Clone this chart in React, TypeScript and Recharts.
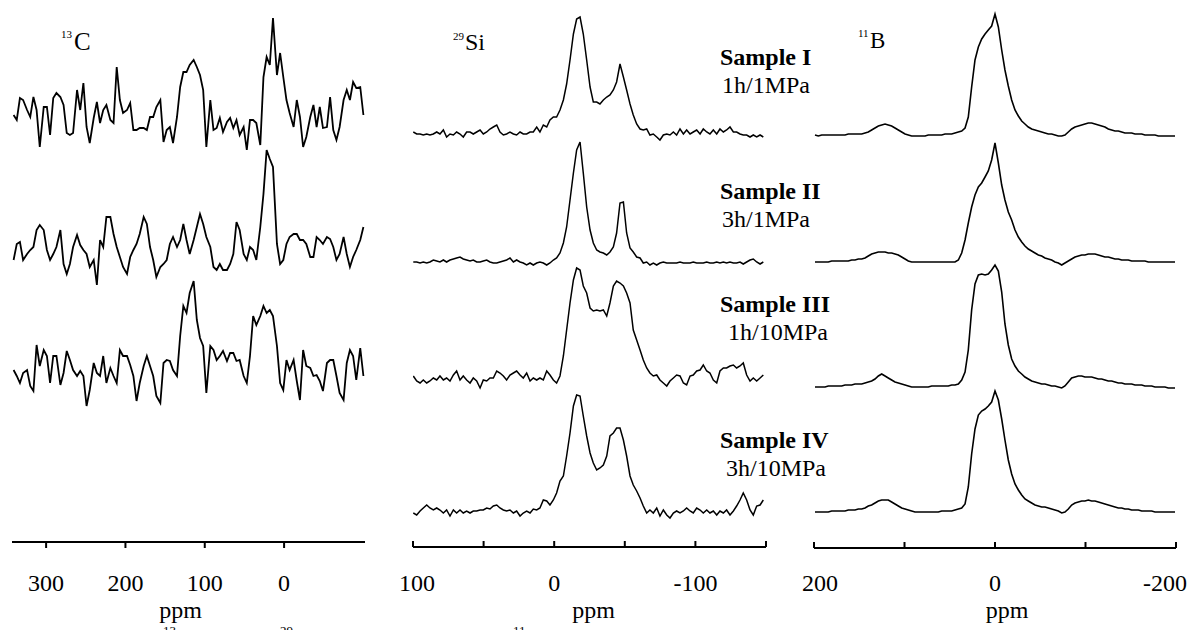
import React from 'react';
import { Line, LineChart, XAxis, YAxis } from 'recharts';

const FONT = '"Liberation Serif", "Times New Roman", serif';
const H = 630;
const PAD = 30;
const TICK_BASELINE = 591;
const PPM_BASELINE = 618;

// ---- 13C spectra (ppm grid shared by the three traces) ----
const carbonPpm = [
  341, 337, 333, 329, 324, 320, 316, 312, 308, 303,
  299, 295, 291, 287, 282, 278, 274, 270, 266, 261,
  257, 253, 249, 245, 240, 236, 232, 228, 224, 219,
  215, 211, 207, 203, 198, 194, 190, 186, 182, 177,
  173, 169, 165, 161, 156, 152, 148, 144, 140, 135,
  131, 127, 123, 119, 114, 110, 106, 102, 98, 93,
  89, 85, 81, 77, 72, 68, 64, 60, 56, 51,
  47, 43, 39, 35, 30, 26, 22, 18, 14, 9,
  5, 1, -3, -7, -12, -16, -20, -24, -28, -33,
  -37, -41, -45, -49, -54, -58, -62, -66, -70, -75,
  -79, -83, -87, -91, -96, -100,
];
const carbonI = [
  35, 30, 52, 50, 40, 33, 53, 40, 3, 43,
  43, 15, 52, 57, 53, 45, 17, 15, 17, 60,
  40, 67, 23, 7, 32, 48, 27, 40, 45, 30,
  27, 83, 50, 37, 40, 47, 20, 20, 22, 22,
  20, 33, 33, 43, 50, 8, 20, 23, 7, 33,
  63, 78, 78, 85, 90, 83, 75, 60, 3, 50,
  20, 22, 32, 18, 28, 32, 22, 30, 15, 23,
  0, 30, 30, 27, 5, 73, 93, 85, 132, 75,
  97, 73, 50, 37, 23, 50, 33, 3, 13, 33,
  45, 23, 43, 22, 23, 53, 20, 10, 23, 50,
  60, 50, 68, 62, 63, 35,
];
const carbonII = [
  27, 43, 45, 27, 33, 37, 40, 57, 62, 57,
  37, 27, 33, 40, 57, 23, 13, 23, 40, 52,
  42, 37, 33, 20, 27, 2, 47, 40, 70, 70,
  53, 40, 30, 20, 13, 30, 37, 43, 53, 70,
  63, 40, 27, 10, 20, 23, 27, 43, 50, 40,
  47, 63, 47, 33, 47, 60, 73, 63, 50, 40,
  20, 17, 23, 17, 17, 23, 33, 65, 57, 33,
  27, 40, 37, 27, 60, 93, 137, 128, 120, 43,
  23, 27, 43, 50, 53, 53, 47, 47, 43, 30,
  30, 50, 47, 43, 50, 48, 40, 27, 33, 50,
  33, 20, 30, 37, 47, 60,
];
const carbonIII = [
  43, 37, 30, 40, 43, 27, 22, 68, 47, 63,
  57, 30, 57, 57, 28, 40, 62, 53, 43, 37,
  42, 37, 7, 23, 50, 40, 37, 57, 30, 45,
  37, 30, 63, 57, 57, 48, 37, 12, 30, 47,
  57, 47, 37, 17, 10, 50, 53, 52, 43, 37,
  77, 107, 100, 120, 132, 93, 75, 67, 20, 67,
  63, 53, 57, 62, 52, 60, 60, 52, 53, 37,
  30, 57, 97, 88, 97, 107, 100, 103, 97, 67,
  30, 23, 53, 43, 53, 32, 13, 63, 47, 45,
  37, 38, 32, 22, 50, 53, 53, 37, 20, 13,
  50, 63, 57, 33, 65, 37,
];

// ---- 29Si spectra ----
const siliconPpm = [
  99.8, 97.4, 95.0, 92.7, 90.3, 88.0, 85.6, 83.2, 80.9, 78.5,
  76.2, 73.8, 71.4, 69.1, 66.7, 64.4, 62.0, 59.6, 57.3, 54.9,
  52.5, 50.2, 47.8, 45.5, 43.1, 40.7, 38.4, 36.0, 33.7, 31.3,
  28.9, 26.6, 24.2, 21.9, 19.5, 17.1, 14.8, 12.4, 10.1, 7.7,
  5.3, 3.0, 0.6, -1.7, -4.1, -6.5, -8.8, -11.2, -13.6, -15.9,
  -18.3, -20.6, -23.0, -25.4, -27.7, -30.1, -32.4, -34.8, -37.2, -39.5,
  -41.9, -44.2, -46.6, -49.0, -51.3, -53.7, -56.0, -58.4, -60.8, -63.1,
  -65.5, -67.8, -70.2, -72.6, -74.9, -77.3, -79.7, -82.0, -84.4, -86.7,
  -89.1, -91.5, -93.8, -96.2, -98.5, -100.9, -103.3, -105.6, -108.0, -110.3,
  -112.7, -115.1, -117.4, -119.8, -122.1, -124.5, -126.9, -129.2, -131.6, -133.9,
  -136.3, -138.7, -141.0, -143.4, -145.8, -148.1,
];
const siliconI = [
  5, 3, 3, 2, 3, 2, 3, 5, 3, 7,
  0, 3, 2, 5, 3, 0, 5, 5, 3, 5,
  7, 3, 5, 8, 10, 12, 5, 2, 3, 5,
  3, 2, 5, 3, 3, 5, 5, 10, 5, 12,
  10, 17, 20, 20, 27, 37, 53, 77, 103, 118,
  120, 103, 77, 50, 35, 35, 33, 37, 40, 42,
  47, 55, 73, 60, 47, 33, 22, 13, 8, 7,
  8, 2, 3, 0, -3, 2, 3, 2, 5, 2,
  8, 3, 7, 3, 5, 7, 3, 8, 5, 3,
  7, 3, 8, 5, 7, 10, 5, 5, 3, 2,
  2, 0, 2, 0, 2, 0,
];
const siliconII = [
  3, 3, 2, 3, 2, 3, 5, 4, 3, 5,
  3, 5, 6, 7, 8, 6, 5, 4, 5, 3,
  3, 4, 5, 3, 2, 2, 3, 4, 5, 7,
  3, 5, 3, 2, 0, 2, 0, 2, 3, 2,
  0, 2, 5, 7, 12, 22, 38, 65, 92, 115,
  123, 92, 58, 35, 22, 15, 13, 12, 10, 13,
  18, 32, 62, 63, 32, 17, 13, 8, 7, 2,
  3, 0, 2, 0, 2, 3, 2, 2, 2, 2,
  3, 2, 2, 2, 3, 2, 2, 2, 3, 2,
  2, 3, 2, 3, 2, 3, 2, 2, 3, 1,
  3, 5, 6, 3, 1, 3,
];
const siliconIII = [
  12, 7, 5, 8, 5, 7, 10, 8, 12, 8,
  10, 7, 13, 17, 8, 12, 8, 5, 10, 7,
  0, 8, 7, 10, 10, 17, 15, 12, 8, 13,
  15, 17, 13, 10, 15, 7, 10, 8, 10, 8,
  17, 13, 8, 5, 12, 32, 58, 85, 108, 120,
  118, 102, 95, 80, 77, 78, 77, 78, 72, 85,
  102, 107, 105, 102, 95, 85, 58, 48, 38, 28,
  20, 15, 12, 13, 8, 5, 2, 7, 10, 13,
  12, 5, 3, 12, 13, 17, 18, 23, 17, 15,
  8, 5, 17, 20, 20, 22, 23, 20, 22, 25,
  13, 7, 10, 7, 10, 13,
];
const siliconIV = [
  5, 3, 7, 10, 13, 10, 8, 10, 8, 5,
  8, 2, 8, 5, 8, 5, 7, 5, 7, 7,
  8, 8, 10, 9, 12, 13, 10, 8, 7, 8,
  5, 7, 2, 5, 7, 5, 9, 8, 10, 18,
  17, 13, 18, 25, 37, 42, 62, 85, 112, 123,
  122, 102, 82, 65, 55, 48, 50, 53, 62, 82,
  85, 90, 90, 78, 62, 42, 33, 27, 20, 12,
  5, 8, 5, 10, 2, 8, 3, 0, 5, 7,
  5, 7, 10, 7, 5, 10, 8, 5, 8, 5,
  7, 3, 7, 5, 8, 3, 7, 12, 18, 25,
  18, 8, 3, 12, 13, 18,
];

// ---- 11B spectra ----
const boronPpm = [
  198.9, 195.2, 191.5, 187.8, 184.2, 180.5, 176.8, 173.1, 169.4, 165.7,
  162.1, 158.4, 154.7, 151.0, 147.3, 143.6, 140.0, 136.3, 132.6, 128.9,
  125.2, 121.5, 117.9, 114.2, 110.5, 106.8, 103.1, 99.4, 95.8, 92.1,
  88.4, 84.7, 81.0, 77.3, 73.7, 70.0, 66.3, 62.6, 58.9, 55.2,
  51.6, 47.9, 44.2, 40.5, 36.8, 33.1, 29.5, 25.8, 22.1, 18.4,
  14.7, 11.0, 7.4, 3.7, 0, -3.7, -7.4, -11.0, -14.7, -18.4,
  -22.1, -25.8, -29.5, -33.1, -36.8, -40.5, -44.2, -47.9, -51.6, -55.2,
  -58.9, -62.6, -66.3, -70.0, -73.7, -77.3, -81.0, -84.7, -88.4, -92.1,
  -95.8, -99.4, -103.1, -106.8, -110.5, -114.2, -117.9, -121.5, -125.2, -128.9,
  -132.6, -136.3, -140.0, -143.6, -147.3, -151.0, -154.7, -158.4, -162.1, -165.7,
  -169.4, -173.1, -176.8, -180.5, -184.2, -187.8, -191.5, -195.2, -198.9,
];
const boronI = [
  2, 1, 2, 2, 2, 2, 2, 2, 2, 2,
  3, 3, 3, 3, 3, 4, 5, 7, 9, 11,
  12, 13, 12, 11, 9, 7, 5, 3, 2, 1,
  1, 1, 1, 1, 2, 2, 2, 2, 2, 3,
  3, 3, 4, 5, 6, 9, 20, 50, 77, 90,
  98, 103, 107, 111, 123, 110, 87, 67, 51, 37,
  27, 21, 16, 13, 10, 8, 7, 6, 5, 4,
  3, 3, 2, 1, 1, 2, 5, 8, 10, 11,
  12, 13, 14, 14, 13, 12, 11, 10, 8, 7,
  6, 6, 5, 4, 4, 4, 3, 3, 3, 2,
  2, 2, 2, 1, 1, 1, 1, 1, 1,
];
const boronII = [
  3, 3, 3, 3, 3, 4, 4, 4, 4, 4,
  4, 5, 5, 6, 6, 7, 9, 11, 12, 13,
  13, 13, 12, 12, 11, 10, 8, 6, 4, 3,
  3, 3, 3, 3, 3, 3, 3, 3, 3, 3,
  3, 3, 3, 5, 12, 25, 42, 58, 70, 78,
  82, 88, 94, 105, 122, 102, 80, 65, 53, 45,
  35, 28, 23, 19, 16, 14, 12, 10, 9, 7,
  6, 5, 3, 2, 0, 2, 4, 6, 8, 9,
  10, 10, 11, 11, 11, 10, 9, 8, 8, 7,
  6, 6, 5, 5, 5, 4, 4, 4, 4, 4,
  3, 3, 3, 3, 3, 3, 3, 3, 3,
];
const boronIII = [
  1, 1, 1, 1, 2, 2, 2, 2, 2, 3,
  3, 3, 4, 4, 4, 5, 6, 7, 9, 12,
  14, 12, 10, 8, 6, 5, 4, 3, 2, 1,
  1, 1, 1, 1, 1, 2, 2, 2, 2, 2,
  2, 3, 3, 4, 8, 16, 38, 78, 104, 113,
  114, 113, 114, 118, 123, 117, 96, 64, 43, 29,
  22, 17, 14, 11, 9, 7, 6, 5, 4, 4,
  3, 2, 2, 1, 0, 2, 6, 10, 11, 12,
  12, 11, 11, 11, 10, 9, 9, 8, 7, 7,
  6, 5, 5, 4, 4, 4, 3, 3, 3, 2,
  2, 2, 1, 1, 1, 1, 0, 0, 0,
];
const boronIV = [
  1, 1, 1, 1, 1, 2, 2, 2, 2, 2,
  3, 3, 3, 4, 4, 5, 7, 8, 10, 12,
  13, 13, 13, 11, 9, 7, 5, 4, 3, 2,
  1, 1, 1, 1, 1, 1, 1, 1, 2, 2,
  2, 2, 3, 4, 5, 9, 26, 59, 84, 98,
  102, 104, 107, 111, 122, 113, 94, 73, 53, 39,
  29, 23, 18, 14, 12, 10, 8, 7, 6, 6,
  5, 4, 3, 2, 0, 1, 4, 8, 10, 11,
  12, 12, 13, 12, 12, 11, 10, 9, 8, 7,
  6, 5, 5, 4, 4, 3, 3, 3, 2, 2,
  2, 2, 1, 1, 1, 1, 1, 1, 1,
];

const samples = [
  { name: 'Sample I', cond: '1h/1MPa' },
  { name: 'Sample II', cond: '3h/1MPa' },
  { name: 'Sample III', cond: '1h/10MPa' },
  { name: 'Sample IV', cond: '3h/10MPa' },
];

type PanelProps = {
  left: number;
  width: number;
  axisY: number;
  domain: [number, number];
  ticks: number[];
  labelled: number[];
  nudge?: Record<number, number>;
  tickUp: boolean;
  ppm: number[];
  series: number[][];
  offsets: number[];
  strokeWidth: number;
  ppmDx: number;
};

function Panel(p: PanelProps) {
  const rows = p.ppm.map((ppm, i) => {
    const row: Record<string, number> = { ppm };
    p.series.forEach((s, k) => {
      row['s' + k] = s[i] + p.offsets[k];
    });
    return row;
  });
  const labelGap = TICK_BASELINE - p.axisY;

  const renderTick = (props: any) => {
    const { x, y, payload } = props;
    const v = payload.value;
    return (
      <g>
        <line x1={x} x2={x} y1={y} y2={p.tickUp ? y - 6 : y + 6} stroke="#000" strokeWidth={2} />
        {p.labelled.includes(v) && (
          <text
            x={x + (p.nudge?.[v] ?? 0)}
            y={y + labelGap}
            textAnchor="middle"
            fontFamily={FONT}
            fontSize={24}
            fill="#000"
          >
            {v}
          </text>
        )}
      </g>
    );
  };

  return (
    <div style={{ position: 'absolute', left: p.left - PAD, top: 0 }}>
      <LineChart
        width={p.width + 2 * PAD}
        height={H}
        data={rows}
        margin={{ top: 0, right: PAD, bottom: 0, left: PAD }}
      >
        <XAxis
          dataKey="ppm"
          type="number"
          domain={p.domain}
          reversed
          allowDataOverflow
          ticks={p.ticks}
          interval={0}
          tickSize={0}
          tickMargin={0}
          tickLine={false}
          axisLine={{ stroke: '#000', strokeWidth: 2 }}
          tick={renderTick}
          height={H - p.axisY}
          label={{
            value: 'ppm',
            position: 'insideBottom',
            offset: H - PPM_BASELINE,
            dx: p.ppmDx,
            fontFamily: FONT,
            fontSize: 24,
            fill: '#000',
          }}
        />
        <YAxis hide type="number" domain={[0, p.axisY]} allowDataOverflow />
        {p.series.map((_, k) => (
          <Line
            key={k}
            dataKey={'s' + k}
            type="linear"
            stroke="#000"
            strokeWidth={p.strokeWidth}
            dot={false}
            isAnimationActive={false}
          />
        ))}
      </LineChart>
    </div>
  );
}

const labelPos = [
  { y: 65, condX: 722 },
  { y: 199, condX: 722 },
  { y: 312, condX: 728 },
  { y: 448, condX: 726 },
];

export default function App() {
  return (
    <div
      style={{
        position: 'absolute',
        left: 0,
        top: 0,
        width: 1193,
        height: H,
        background: '#fff',
        overflow: 'hidden',
      }}
    >
      <Panel
        left={12}
        width={353}
        axisY={542}
        domain={[-102, 343]}
        ticks={[300, 200, 100, 0]}
        labelled={[300, 200, 100, 0]}
        tickUp={false}
        ppm={carbonPpm}
        series={[carbonI, carbonII, carbonIII]}
        offsets={[392, 255, 129]}
        strokeWidth={1.8}
        ppmDx={-8}
      />
      <Panel
        left={413}
        width={353}
        axisY={547}
        domain={[-150, 100]}
        ticks={[100, 50, 0, -50, -100, -150]}
        labelled={[100, 0, -100]}
        nudge={{ 100: 4 }}
        tickUp
        ppm={siliconPpm}
        series={[siliconI, siliconII, siliconIII, siliconIV]}
        offsets={[410, 282, 159, 29]}
        strokeWidth={1.5}
        ppmDx={4}
      />
      <Panel
        left={814}
        width={362}
        axisY={548}
        domain={[-200, 200]}
        ticks={[200, 100, 0, -100, -200]}
        labelled={[200, 0, -200]}
        nudge={{ 200: 6, [-200]: -11 }}
        tickUp
        ppm={boronPpm}
        series={[boronI, boronII, boronIII, boronIV]}
        offsets={[411, 283, 160, 35]}
        strokeWidth={1.6}
        ppmDx={12}
      />
      <svg
        width={1193}
        height={H}
        style={{ position: 'absolute', left: 0, top: 0, pointerEvents: 'none' }}
        fontFamily={FONT}
        fill="#000"
      >
        <text x={61} y={38} fontSize={11}>13</text>
        <text x={74} y={50} fontSize={25}>C</text>
        <text x={453} y={40} fontSize={11}>29</text>
        <text x={465} y={50} fontSize={24}>Si</text>
        <text x={858} y={37} fontSize={11}>11</text>
        <text x={870} y={48} fontSize={23}>B</text>
        {samples.map((s, i) => (
          <g key={s.name}>
            <text x={720} y={labelPos[i].y} fontSize={24} fontWeight="bold">
              {s.name}
            </text>
            <text x={labelPos[i].condX} y={labelPos[i].y + 28} fontSize={24}>
              {s.cond}
            </text>
          </g>
        ))}
        <text x={163} y={635} fontSize={13}>13</text>
        <text x={280} y={635} fontSize={13}>29</text>
        <text x={513} y={635} fontSize={13}>11</text>
      </svg>
    </div>
  );
}
